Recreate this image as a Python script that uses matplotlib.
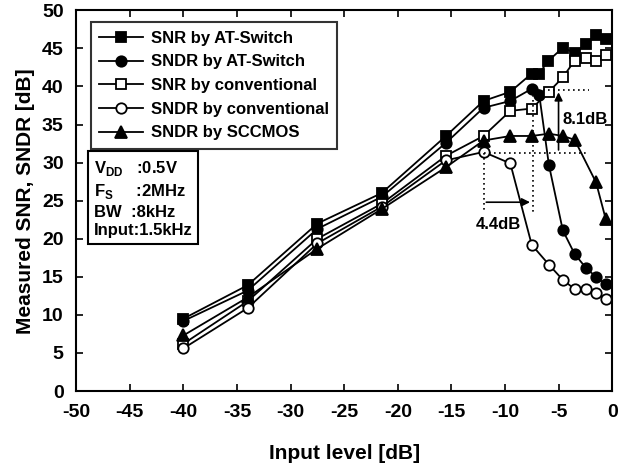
import matplotlib
matplotlib.use("Agg")
import matplotlib.pyplot as plt

plt.rcParams['font.family'] = ['Liberation Sans', 'DejaVu Sans']
plt.rcParams['font.weight'] = 'bold'
plt.rcParams['axes.unicode_minus'] = False
plt.rcParams['mathtext.fontset'] = 'custom'
plt.rcParams['mathtext.rm'] = 'Liberation Sans:bold'
plt.rcParams['mathtext.bf'] = 'Liberation Sans:bold'

# data
snr_at_x = [-40, -34, -27.5, -21.5, -15.5, -12, -9.5, -7.5, -6.8, -6.0, -4.6, -3.5, -2.4, -1.5, -0.6]
snr_at = [9.5, 13.9, 22.0, 26.0, 33.5, 38.1, 39.3, 41.7, 41.7, 43.3, 45.1, 44.4, 45.6, 46.7, 46.2]

sndr_at_x = [-40, -34, -27.5, -21.5, -15.5, -12, -9.5, -7.5, -6.8, -5.9, -4.6, -3.5, -2.4, -1.5, -0.6]
sndr_at = [9.2, 13.2, 21.3, 25.5, 32.6, 37.2, 38.1, 39.7, 38.9, 29.7, 21.1, 18.0, 16.1, 15.0, 14.0]

snr_conv_x = [-40, -34, -27.5, -21.5, -15.5, -12, -9.5, -7.5, -5.9, -4.6, -3.5, -2.4, -1.5, -0.6]
snr_conv = [6.2, 11.8, 20.0, 24.6, 30.9, 33.5, 36.8, 37.1, 39.3, 41.2, 43.4, 43.8, 43.4, 44.2]

sndr_conv_x = [-40, -34, -27.5, -21.5, -15.5, -12, -9.5, -7.5, -5.9, -4.6, -3.5, -2.4, -1.5, -0.6]
sndr_conv = [5.6, 10.9, 19.4, 24.2, 30.3, 31.4, 29.9, 19.2, 16.6, 14.6, 13.4, 13.4, 12.9, 12.1]

sccmos_x = [-40, -34, -27.5, -21.5, -15.5, -12, -9.5, -7.5, -5.9, -4.6, -3.5, -1.5, -0.6]
sccmos = [7.3, 12.3, 18.7, 23.9, 29.4, 32.9, 33.5, 33.5, 33.8, 33.5, 33.0, 27.4, 22.6]

labels = ['SNR by AT-Switch', 'SNDR by AT-Switch', 'SNR by conventional',
          'SNDR by conventional', 'SNDR by SCCMOS']

fig = plt.figure(figsize=(6.35, 4.70), dpi=100)
ax = fig.add_axes([0.12, 0.168, 0.844, 0.81])

common = dict(color='black', lw=1.3, mew=1.3, mec='black')
ax.plot(snr_at_x, snr_at, marker='s', ms=7, mfc='black', label=labels[0], **common)
ax.plot(sndr_at_x, sndr_at, marker='o', ms=7.5, mfc='black', label=labels[1], **common)
ax.plot(snr_conv_x, snr_conv, marker='s', ms=7, mfc='white', label=labels[2], **common)
ax.plot(sndr_conv_x, sndr_conv, marker='o', ms=7.5, mfc='white', label=labels[3], **common)
ax.plot(sccmos_x, sccmos, marker='^', ms=8.5, mfc='black', label=labels[4], **common)

# annotation: 4.4dB shift
dot = dict(color='black', lw=1.2, ls=(0, (1, 2)))
ax.plot([-12, -2.2], [31.3, 31.3], **dot)
ax.plot([-12, -12], [31.3, 23.5], **dot)
ax.plot([-7.4, -7.4], [39.6, 23.5], **dot)
ax.plot([-7.4, -2.2], [39.6, 39.6], **dot)
ax.annotate('', xy=(-7.4, 24.8), xytext=(-12, 24.8),
            arrowprops=dict(arrowstyle='-|>', color='black', lw=1.2, mutation_scale=12))
ax.text(-10.6, 21.9, '4.4dB', ha='center', va='center', fontsize=12, fontweight='bold')

# annotation: 8.1dB improvement
ax.annotate('', xy=(-5.0, 39.6), xytext=(-5.0, 31.3),
            arrowprops=dict(arrowstyle='-|>', color='black', lw=1.2, mutation_scale=12))
ax.text(-4.6, 35.6, '8.1dB', ha='left', va='center', fontsize=12, fontweight='bold')

ax.set_xlim(-50, 0)
ax.set_ylim(0, 50)
ax.set_xticks(range(-50, 1, 5))
ax.set_yticks(range(0, 51, 5))
ax.tick_params(direction='in', top=True, right=True, length=5, width=1.2,
               labelsize=14, pad=9)
for lab in ax.get_xticklabels() + ax.get_yticklabels():
    lab.set_fontweight('bold')
for sp in ax.spines.values():
    sp.set_linewidth(1.5)

ax.set_xlabel('Input level [dB]', fontsize=15, fontweight='bold', labelpad=17)
ax.set_ylabel('Measured SNR, SNDR [dB]', fontsize=15, fontweight='bold', labelpad=5)

leg = ax.legend(loc='upper left', bbox_to_anchor=(0.012, 0.99), fontsize=12,
                handlelength=2.6, handletextpad=0.5, labelspacing=0.52,
                borderpad=0.5, fancybox=False, frameon=True)
leg.get_frame().set_edgecolor('black')
leg.get_frame().set_linewidth(1.5)
for t in leg.get_texts():
    t.set_fontweight('bold')

info = ('V$_{\\mathrm{DD}}$   :0.5V\n'
        'F$_{\\mathrm{S}}$     :2MHz\n'
        'BW  :8kHz\n'
        'Input:1.5kHz')
ax.text(0.033, 0.61, info, transform=ax.transAxes, ha='left', va='top',
        fontsize=12, fontweight='bold', linespacing=1.3,
        bbox=dict(boxstyle='square,pad=0.35', fc='white', ec='black', lw=1.5))

fig.savefig('out.png', dpi=100)
